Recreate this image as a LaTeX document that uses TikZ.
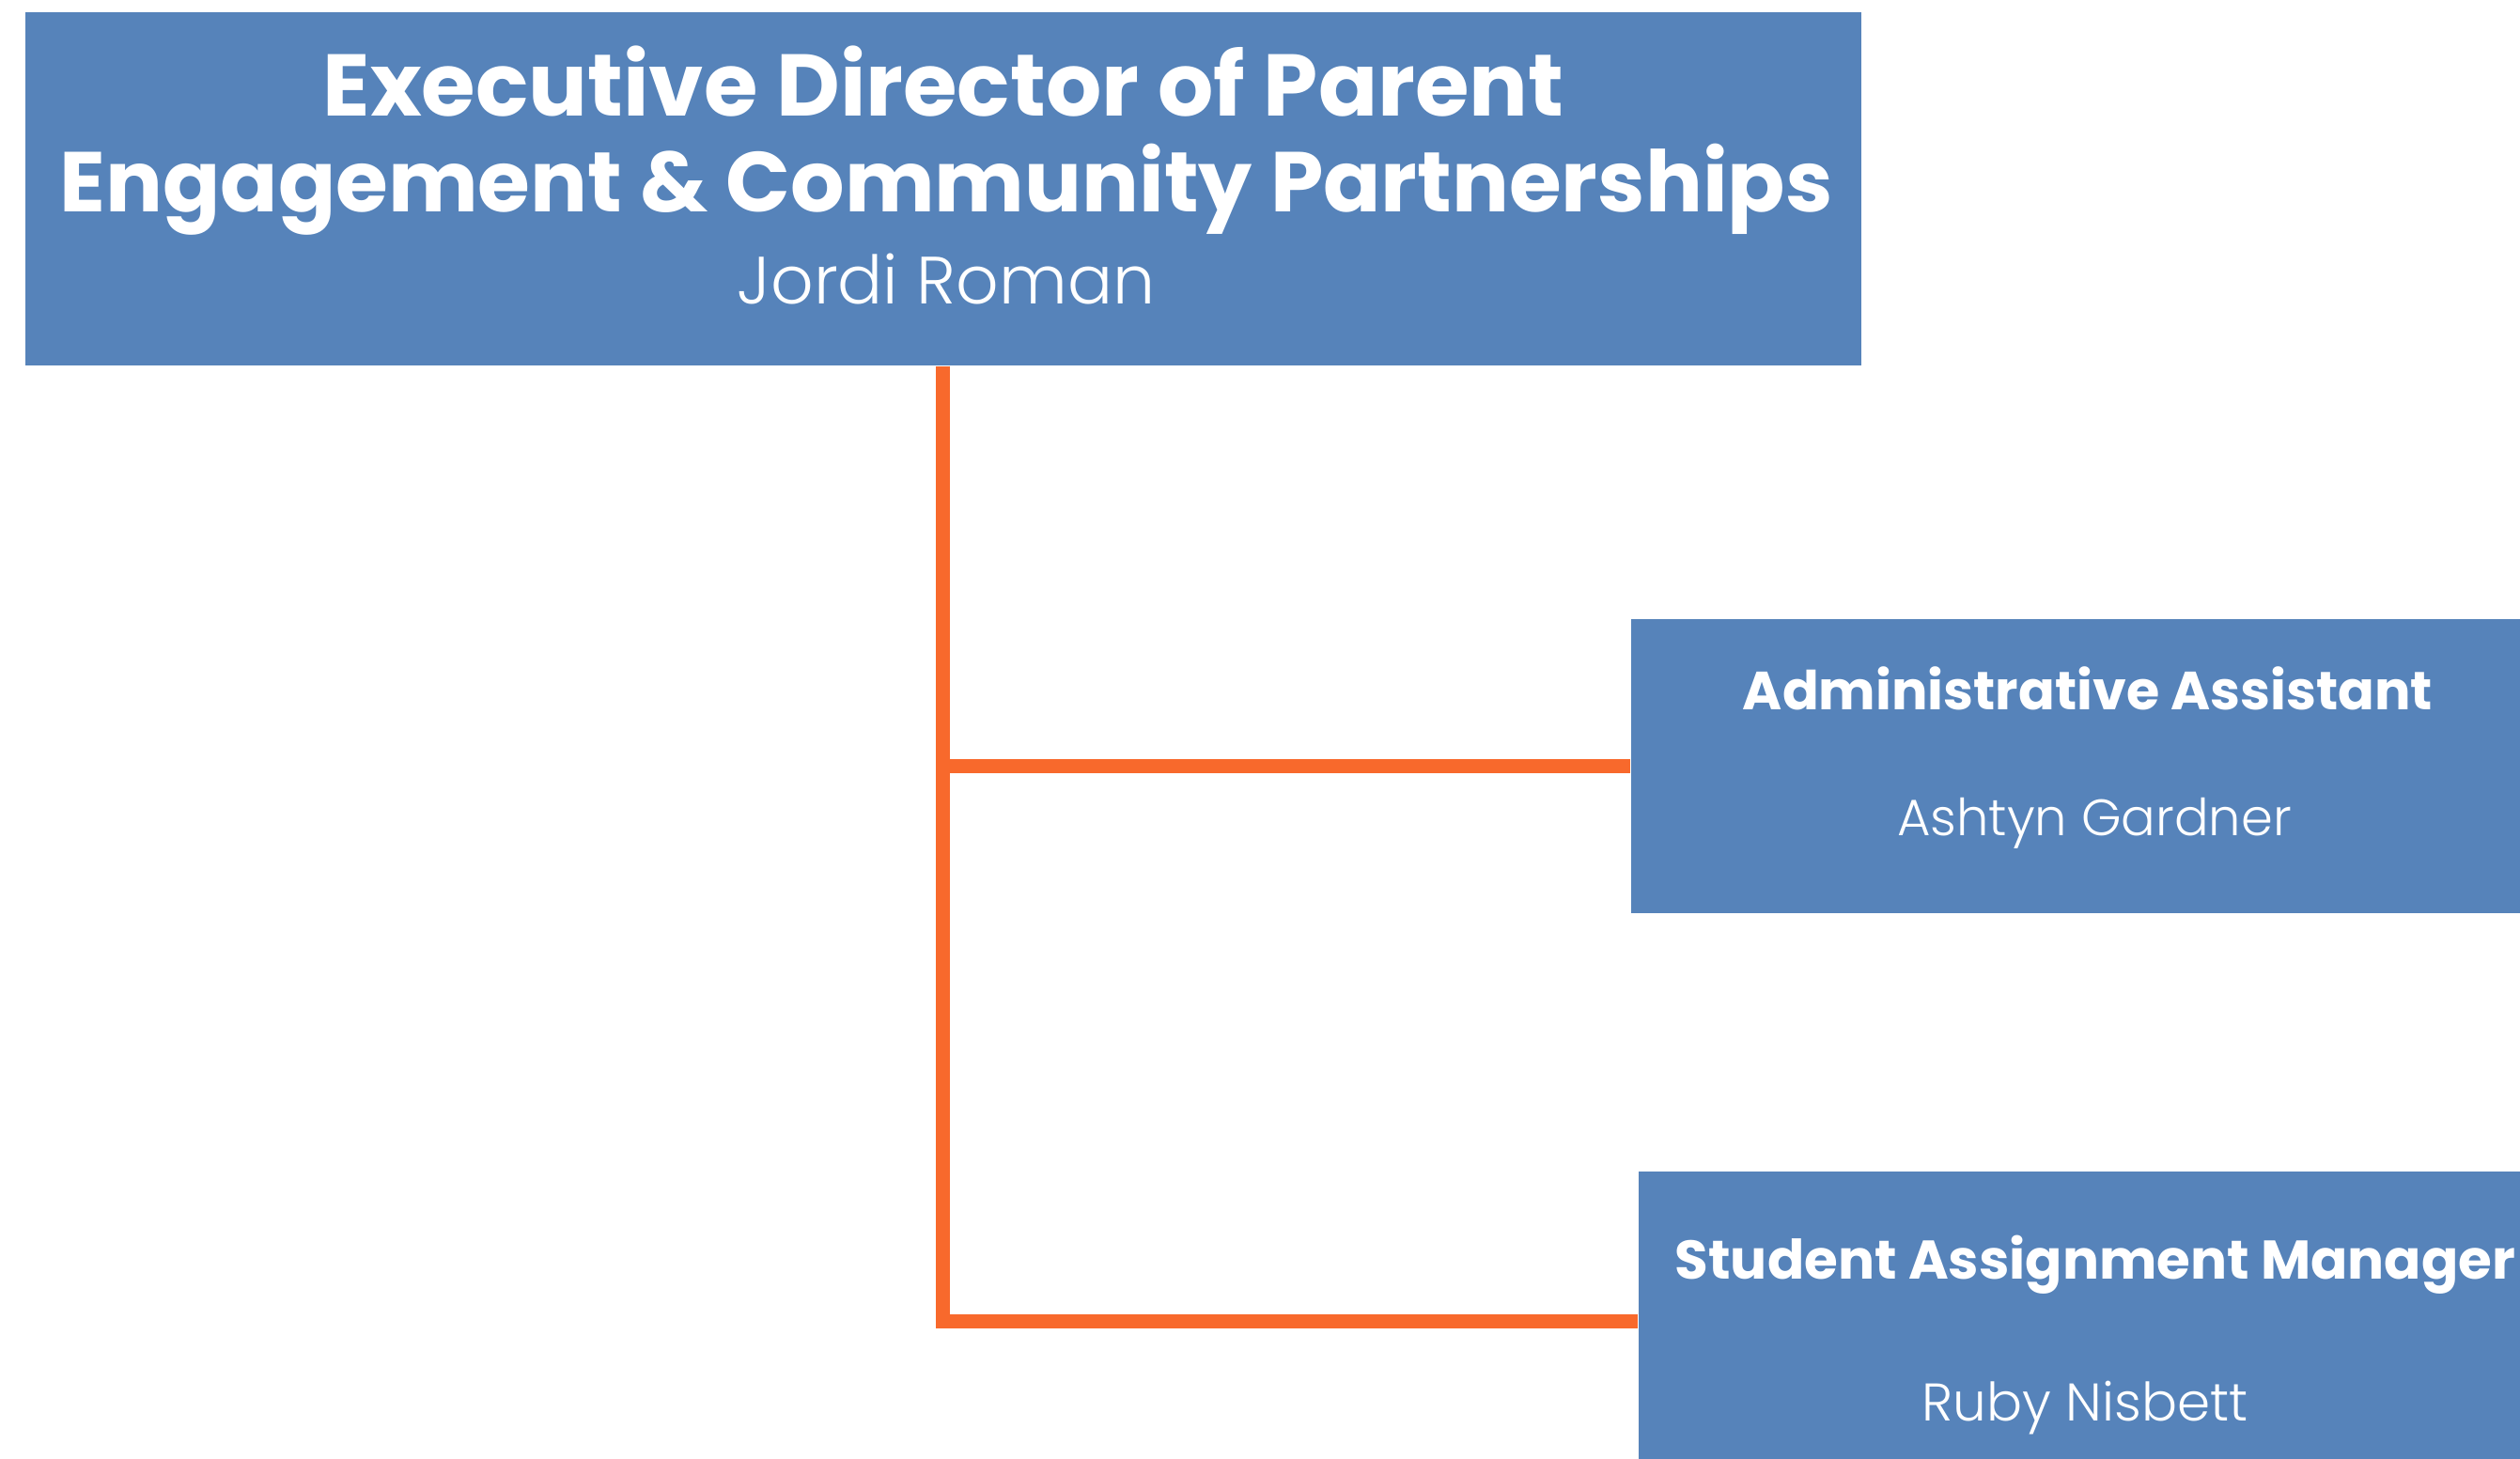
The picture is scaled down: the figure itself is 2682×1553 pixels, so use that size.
\documentclass[tikz,border=0pt]{standalone}
\usepackage{fontspec}
\setmainfont{Poppins}
\newfontfamily\lightfont{Poppins}[UprightFont=* Light]
\definecolor{boxblue}{HTML}{5683BA}
\definecolor{connorange}{HTML}{F8692C}
\begin{document}
\begin{tikzpicture}[x=0.25pt,y=-0.25pt,
  box/.style={fill=boxblue,draw=none,inner sep=0pt,anchor=north west},
  ttl/.style={text=white,font=\bfseries,anchor=base,inner sep=0pt},
  nm/.style={text=white,font=\lightfont,anchor=base,inner sep=0pt},
  conn/.style={draw=connorange,line width=3.75pt,line join=miter}]
\useasboundingbox (0,0) rectangle (2682,1553);
% boxes
\node[box,minimum width=488.5pt,minimum height=94pt] (top) at (26,12) {};
\node[box,minimum width=243.75pt,minimum height=78.25pt] (adm) at (1735,658) {};
\node[box,minimum width=243.5pt,minimum height=80pt] (stu) at (1743,1246) {};
% connectors
\draw[conn] (top.south) |- (stu.west);
\draw[conn] (top.south |- adm.west) -- (adm.west);
% texts
\node[ttl,font=\bfseries\fontsize{23.3}{28}\selectfont] (t1) at (1004,123) {Executive Director of Parent};
\node[ttl,font=\bfseries\fontsize{22.6}{28}\selectfont] (t2) at (1007,225) {Engagement \& Community Partnerships};
\node[nm,font=\lightfont\fontsize{17.8}{20}\selectfont] (n1) at (1007,323) {Jordi Roman};
\node[ttl,font=\bfseries\fontsize{14.3}{18}\selectfont] (t3) at (2222,755) {Administrative Assistant};
\node[nm,font=\lightfont\fontsize{13.6}{16}\selectfont] (n2) at (2229,889) {Ashtyn Gardner};
\node[ttl,font=\bfseries\fontsize{14.5}{18}\selectfont] (t4) at (2230,1361) {Student Assignment Manager};
\node[nm,font=\lightfont\fontsize{14.1}{16}\selectfont] (n3) at (2219,1512) {Ruby Nisbett};
\end{tikzpicture}
\end{document}
